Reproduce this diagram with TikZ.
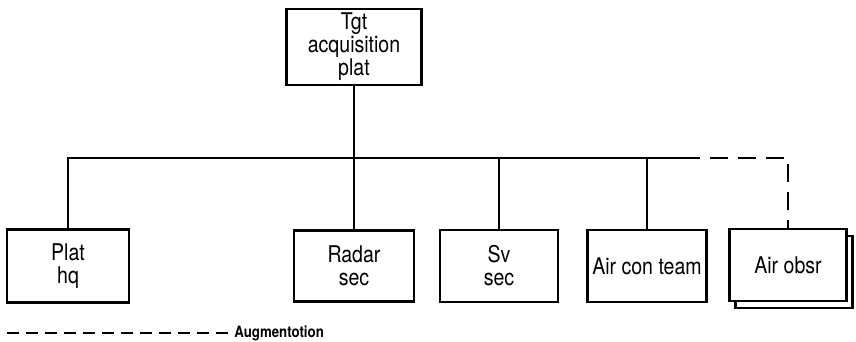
\documentclass[tikz,border=0pt]{standalone}
\usepackage{fontspec}
\setmainfont{TeX Gyre Heros}[FakeStretch=0.85]
\usetikzlibrary{positioning,shadows}

\tikzset{
    box/.style={draw, line width=1.1pt, fill=white, align=center, inner sep=0pt,
        font=\fontsize{11.5}{11.5}\selectfont},
    link/.style={line width=1.1pt},
    augline/.style={line width=1.1pt, dash pattern=on 9pt off 5pt},
}

\begin{document}
\begin{tikzpicture}[x=0.5pt, y=-0.5pt]
    \useasboundingbox (0,0) rectangle (856,342);

    % Top box
    \node[box, minimum width=67.5pt, minimum height=38pt] (tgt) at (354,47) {Tgt\\acquisition\\plat};

    % Sections
    \node[box, minimum width=61pt, minimum height=36.5pt] (plat) at (68,266) {Plat\\hq};
    \node[box, minimum width=60pt, minimum height=35.5pt] (radar) at (354,266) {Radar\\sec};
    \node[box, minimum width=59pt, minimum height=36pt] (sv) at (499,266) {Sv\\sec};
    \node[box, minimum width=59.5pt, minimum height=36pt] (aircon) at (647,266) {Air con team};
    \node[box, minimum width=58.5pt, minimum height=36pt,
        copy shadow={shadow xshift=3pt, shadow yshift=-3.5pt, draw, line width=1.1pt, fill=white}]
        (airobsr) at (788,265) {Air obsr};

    % Lines
    \coordinate (bus) at (0,158);
    \draw[link] (tgt.south) -- (radar.north);
    \draw[link] (plat.north) |- (bus -| aircon.north) -- ++(35,0) coordinate (dashstart);
    \draw[link] (bus -| aircon.north) -- (aircon.north);
    \draw[link] (bus -| sv.north) -- (sv.north);
    \draw[augline] (dashstart) -| (airobsr.north);

    % Legend
    \coordinate (legL) at (7,333);
    \coordinate (legR) at (228,333);
    \draw[line width=0.9pt, dash pattern=on 6pt off 3.5pt] (legL) -- (legR);
    \node[right=3pt of legR, inner sep=0pt, font=\fontsize{7.8}{8}\selectfont\bfseries] (aug) {Augmentotion};

\end{tikzpicture}
\end{document}
